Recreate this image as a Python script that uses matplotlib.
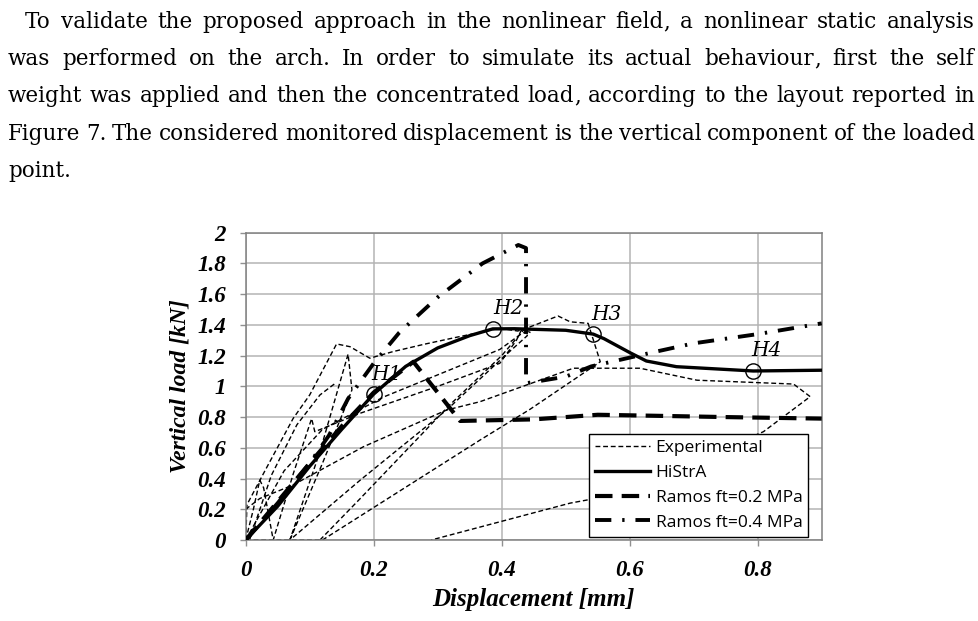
import matplotlib
matplotlib.use("Agg")
import matplotlib.pyplot as plt
from matplotlib.lines import Line2D

W, H = 979, 621

# paragraph above the figure
para_lines = [
    "To validate the proposed approach in the nonlinear field, a nonlinear static analysis",
    "was performed on the arch. In order to simulate its actual behaviour, first the self",
    "weight was applied and then the concentrated load, according to the layout reported in",
    "Figure 7. The considered monitored displacement is the vertical component of the loaded",
    "point.",
]

# HiStrA numerical curve
histra_x = [0, 0.05, 0.10, 0.15, 0.20, 0.25, 0.30, 0.35, 0.386, 0.42, 0.50, 0.543, 0.56, 0.60, 0.626, 0.673, 0.793, 0.90]
histra_y = [0, 0.22, 0.48, 0.72, 0.95, 1.13, 1.25, 1.33, 1.374, 1.375, 1.365, 1.34, 1.31, 1.22, 1.165, 1.128, 1.10, 1.105]

# Ramos ft=0.2 MPa
ramos2_x = [0, 0.05, 0.10, 0.15, 0.20, 0.262, 0.335, 0.45, 0.55, 0.62, 0.75, 0.90]
ramos2_y = [0, 0.25, 0.50, 0.74, 0.96, 1.16, 0.775, 0.785, 0.815, 0.81, 0.80, 0.79]

# Ramos ft=0.4 MPa
ramos4_x = [0, 0.05, 0.10, 0.13, 0.16, 0.20, 0.24, 0.30, 0.37, 0.426, 0.438, 0.438, 0.50, 0.54, 0.64, 0.70, 0.80, 0.90]
ramos4_y = [0, 0.24, 0.50, 0.68, 0.92, 1.15, 1.35, 1.58, 1.80, 1.92, 1.90, 1.02, 1.063, 1.13, 1.225, 1.28, 1.34, 1.41]

# Experimental cyclic curves
exp1_x = [0, 0.002, 0.03, 0.074, 0.10, 0.142, 0.163, 0.194, 0.23, 0.28, 0.33, 0.397, 0.425, 0.44, 0.488, 0.507, 0.535, 0.554, 0.444, 0.366, 0.12, 0]
exp1_y = [0, 0.23, 0.45, 0.79, 0.944, 1.276, 1.258, 1.183, 1.226, 1.275, 1.32, 1.378, 1.36, 1.38, 1.458, 1.42, 1.41, 1.16, 0.85, 0.65, 0, 0]
exp2_x = [0, 0.012, 0.022, 0.028, 0.043, 0.075, 0.103, 0.108, 0.179, 0.30, 0.397, 0.423, 0.43, 0.436, 0.44, 0.40, 0.315, 0.179, 0.069, 0.116, 0.16, 0.166, 0.158, 0.12, 0.069]
exp2_y = [0, 0.20, 0.39, 0.34, 0, 0.44, 0.79, 0.705, 0.825, 1.0, 1.15, 1.30, 1.36, 1.38, 1.33, 1.18, 0.85, 0.39, 0, 0.575, 1.21, 0.977, 0.89, 0.50, 0]
exp3_x = [0.116, 0.179, 0.319, 0.40, 0.435, 0.445]
exp3_y = [0, 0.27, 0.88, 1.20, 1.37, 1.35]
exp4_x = [0, 0, 0.022, 0.074, 0.184, 0.314, 0.366, 0.512, 0.616, 0.705, 0.856, 0.882, 0.809, 0.68, 0.533, 0.507, 0.29]
exp4_y = [0, 0.20, 0.27, 0.358, 0.607, 0.846, 0.90, 1.118, 1.118, 1.04, 1.015, 0.933, 0.705, 0.47, 0.26, 0.24, 0]
exp5_x = [0, 0.06, 0.12, 0.215, 0.397, 0.43, 0.445]
exp5_y = [0, 0.45, 0.72, 0.93, 1.24, 1.34, 1.37]
exp6_x = [0.006, 0.04, 0.08, 0.116, 0.14]
exp6_y = [0, 0.42, 0.75, 0.944, 1.02]
exp_curves = [(exp1_x, exp1_y), (exp2_x, exp2_y), (exp3_x, exp3_y),
              (exp4_x, exp4_y), (exp5_x, exp5_y), (exp6_x, exp6_y)]

# monitored points
h_names = ["H1", "H2", "H3", "H4"]
h_x = [0.20, 0.386, 0.543, 0.793]
h_y = [0.95, 1.374, 1.34, 1.10]
h_lab_x = [0.22, 0.41, 0.564, 0.814]
h_lab_y = [1.077, 1.504, 1.465, 1.232]

xticks = [0, 0.2, 0.4, 0.6, 0.8]
xtick_labels = ["0", "0.2", "0.4", "0.6", "0.8"]
yticks = [0, 0.2, 0.4, 0.6, 0.8, 1.0, 1.2, 1.4, 1.6, 1.8, 2.0]
ytick_labels = ["0", "0.2", "0.4", "0.6", "0.8", "1", "1.2", "1.4", "1.6", "1.8", "2"]

fig = plt.figure(figsize=(W / 100, H / 100), dpi=100)
ax = fig.add_axes([245.7 / W, 1 - 540 / H, 576 / W, 307.3 / H])

exp_style = dict(color="black", lw=1.0, linestyle=(0, (3.5, 2)))
for ex, ey in exp_curves:
    ax.plot(ex, ey, zorder=2, **exp_style)

r2_style = dict(color="black", lw=3.0, linestyle=(0, (4.2, 2.2)))
r4_style = dict(color="black", lw=2.8, linestyle=(0, (4.2, 2.8, 0.6, 2.8)))
ax.plot(ramos2_x, ramos2_y, zorder=3, **r2_style)
ax.plot(ramos4_x, ramos4_y, zorder=3, **r4_style)
ax.plot(histra_x, histra_y, color="black", lw=2.4, solid_capstyle="round", zorder=4)

ax.plot(h_x, h_y, linestyle="none", marker="o", ms=11, mfc="none", mec="black", mew=1.0, zorder=5)
for name, tx, ty in zip(h_names, h_lab_x, h_lab_y):
    ax.text(tx, ty, name, ha="center", va="center", fontsize=14.5,
            family="DejaVu Serif", style="italic", zorder=6)

ax.set_xlim(0, 0.9)
ax.set_ylim(0, 2)
ax.set_xticks(xticks)
ax.set_xticklabels(xtick_labels)
ax.set_yticks(yticks)
ax.set_yticklabels(ytick_labels)
ax.grid(True, color="#b4b4b4", lw=1.1)
ax.set_axisbelow(True)
for s in ax.spines.values():
    s.set_color("#808080")
    s.set_linewidth(1.1)
ax.tick_params(direction="out", length=4.3, width=1.0, color="#909090", pad=10)
tick_font = dict(family="Liberation Serif", weight="bold", style="italic", size=16.5)
for lab in ax.get_xticklabels() + ax.get_yticklabels():
    lab.set_fontproperties(matplotlib.font_manager.FontProperties(**tick_font))

ax.set_xlabel("Displacement [mm]", fontfamily="Liberation Serif", fontweight="bold",
              fontstyle="italic", fontsize=18, labelpad=5)
ax.set_ylabel("Vertical load [kN]", fontfamily="Liberation Serif", fontweight="bold",
              fontstyle="italic", fontsize=17, labelpad=5)

handles = [
    Line2D([], [], **exp_style),
    Line2D([], [], color="black", lw=2.4),
    Line2D([], [], **r2_style),
    Line2D([], [], **r4_style),
]
labels = ["Experimental", "HiStrA", "Ramos ft=0.2 MPa", "Ramos ft=0.4 MPa"]
leg = ax.legend(handles, labels, loc="lower right", bbox_to_anchor=(0.977, 0.011),
                borderaxespad=0, frameon=True, fancybox=False, framealpha=1,
                edgecolor="black", prop={"family": "Open Sans", "size": 12.5},
                handlelength=3.2, handletextpad=0.3, labelspacing=0.5,
                borderpad=0.35)
leg.get_frame().set_linewidth(1.0)
leg.set_zorder(10)

# justified paragraph: each word placed separately, trailing comma split off
fig.canvas.draw()
r = fig.canvas.get_renderer()
baselines = [28, 65, 102, 140, 177]
starts = [25, 8, 8, 8, 8]
right_edge = 975
txt_kw = dict(fontsize=15.5, family="DejaVu Serif", va="baseline", ha="left")
for i, line in enumerate(para_lines):
    words = line.split(" ")
    ypos = 1 - baselines[i] / H
    groups = []
    for w in words:
        parts = [w[:-1], ","] if w.endswith(",") else [w]
        group = []
        for p in parts:
            t = fig.text(0, ypos, p, **txt_kw)
            group.append((t, t.get_window_extent(renderer=r).width))
        groups.append(group)
    total = sum(wd for g in groups for _, wd in g)
    if i < len(para_lines) - 1 and len(groups) > 1:
        gap = (right_edge - starts[i] - total) / (len(groups) - 1)
    else:
        gap = 6
    x = starts[i]
    for g in groups:
        for t, wd in g:
            t.set_x(x / W)
            x += wd
        x += gap

fig.savefig("out.png", dpi=100)
